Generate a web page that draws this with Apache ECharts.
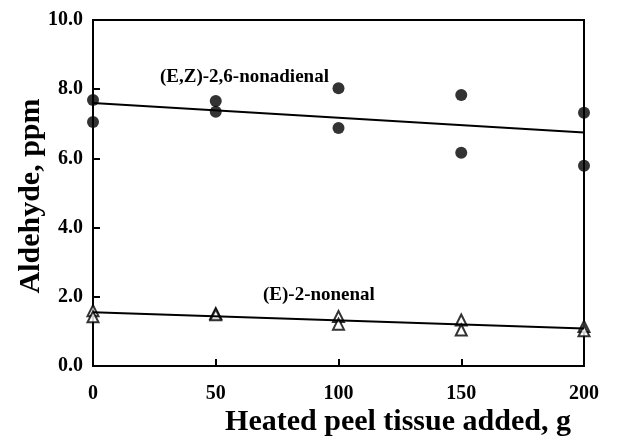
<!DOCTYPE html>
<html><head><meta charset="utf-8">
<script src="https://cdn.jsdelivr.net/npm/echarts@6/dist/echarts.min.js"></script>
<style>html,body{margin:0;padding:0;background:#fff}#c{width:634px;height:440px}</style>
</head><body><div id="c"></div>
<script>
var xTicks = [0, 50, 100, 150, 200];
var nadX = [0, 0, 50, 50, 100, 100, 150, 150, 200, 200];
var nadY = [7.69, 7.05, 7.66, 7.35, 8.03, 6.88, 7.83, 6.16, 7.32, 5.79];
var nenX = [0, 0, 50, 50, 100, 100, 150, 150, 200, 200];
var nenY = [1.60, 1.42, 1.52, 1.48, 1.43, 1.21, 1.33, 1.04, 1.14, 1.02];
var labelNad = '(E,Z)-2,6-nonadienal';
var labelNen = '(E)-2-nonenal';
var xTitle = 'Heated peel tissue added, g';
var yTitle = 'Aldehyde, ppm';

function pairs(xs, ys){ return xs.map(function(x,i){return [x, ys[i]];}); }
function fit(xs, ys){
  var n = xs.length, mx = 0, my = 0;
  for (var i=0;i<n;i++){mx+=xs[i];my+=ys[i];}
  mx/=n; my/=n;
  var sxy=0, sxx=0;
  for (i=0;i<n;i++){sxy+=(xs[i]-mx)*(ys[i]-my);sxx+=(xs[i]-mx)*(xs[i]-mx);}
  var b = sxy/sxx, a = my - b*mx;
  var x0 = xTicks[0], x1 = xTicks[xTicks.length-1];
  return [[x0, a+b*x0],[x1, a+b*x1]];
}

var font = '"Liberation Serif", "Times New Roman", serif';
var chart = echarts.init(document.getElementById('c'));
chart.setOption({
  animation: false,
  grid: {left: 93, right: 50, top: 20, bottom: 74, show: true, borderColor: '#000', borderWidth: 2,
    containLabel: false, outerBoundsMode: 'none'},
  xAxis: {
    type: 'value', min: 0, max: 200, interval: 50,
    axisLine: {lineStyle: {color: '#000', width: 2}},
    axisTick: {inside: true, length: 7, lineStyle: {color: '#000', width: 2}},
    axisLabel: {fontFamily: font, fontWeight: 'bold', fontSize: 20, color: '#000', margin: 18},
    splitLine: {show: false}
  },
  yAxis: {
    type: 'value', min: 0, max: 10, interval: 2,
    axisLine: {lineStyle: {color: '#000', width: 2}},
    axisTick: {inside: true, length: 7, lineStyle: {color: '#000', width: 2}},
    axisLabel: {fontFamily: font, fontWeight: 'bold', fontSize: 20, color: '#000', margin: 10,
      formatter: function(v){return v.toFixed(1);}},
    splitLine: {show: false}
  },
  series: [
    {type: 'line', data: fit(nadX, nadY), symbol: 'none', lineStyle: {color: '#000', width: 2}, silent: true},
    {type: 'line', data: fit(nenX, nenY), symbol: 'none', lineStyle: {color: '#000', width: 2}, silent: true},
    {type: 'scatter', data: pairs(nadX, nadY), symbol: 'circle', symbolSize: 12, clip: false,
      itemStyle: {color: '#000'}},
    {type: 'scatter', data: pairs(nenX, nenY), symbol: 'triangle', symbolSize: 11, clip: false,
      itemStyle: {color: '#fff', borderColor: '#000', borderWidth: 2}}
  ],
  graphic: [
    {type: 'text', x: 160, y: 77, style: {text: labelNad, font: 'bold 19px ' + font, fill: '#000', verticalAlign: 'middle'}},
    {type: 'text', x: 263, y: 295, style: {text: labelNen, font: 'bold 19px ' + font, fill: '#000', verticalAlign: 'middle'}},
    {type: 'text', x: 398, y: 422, style: {text: xTitle, font: 'bold 30px ' + font, fill: '#000', align: 'center', verticalAlign: 'middle'}},
    {type: 'text', x: 31, y: 196, rotation: Math.PI / 2, style: {text: yTitle, font: 'bold 30px ' + font, fill: '#000', align: 'center', verticalAlign: 'middle'}}
  ]
});
</script></body></html>
